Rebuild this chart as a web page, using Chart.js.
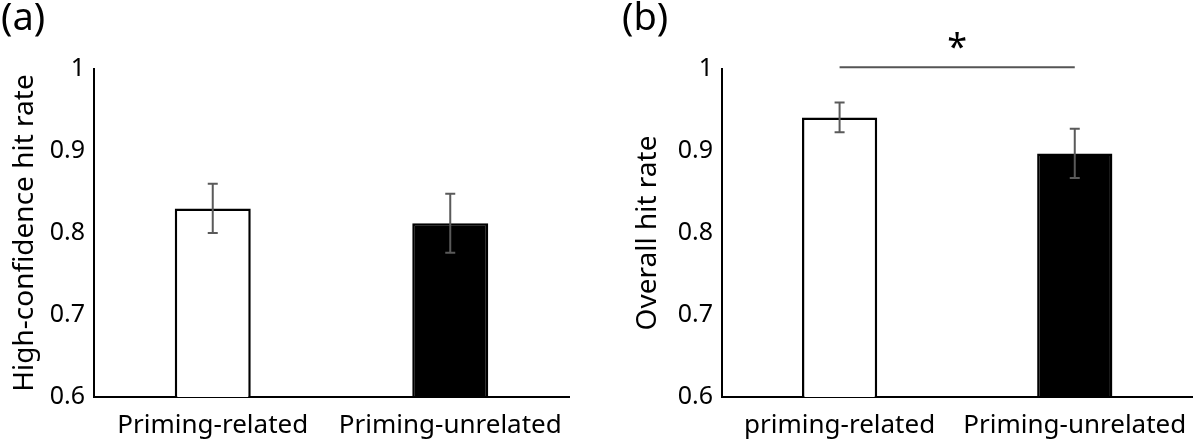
<!DOCTYPE html>
<html>
<head>
    <meta charset="utf-8"/>
    <title>Hit rates</title>
    <script src="https://cdn.jsdelivr.net/npm/chart.js@4/dist/chart.umd.min.js"></script>
    <style>
        body { margin: 0; background: #fff; }
        .wrap { position: relative; width: 1200px; height: 442px; }
        .wrap canvas { position: absolute; top: 0; }
        #chartA { left: 0; }
        #chartB { left: 600px; }
    </style>
</head>
<body>
    <div class="wrap">
        <canvas id="chartA" width="600" height="442"></canvas>
        <canvas id="chartB" width="600" height="442"></canvas>
    </div>
    <script>
        // data
        const categoriesA = ['Priming-related', 'Priming-unrelated'];
        const hitRateA = [0.83, 0.812];
        const errorA = [0.03, 0.036];

        const categoriesB = ['priming-related', 'Priming-unrelated'];
        const hitRateB = [0.941, 0.897];
        const errorB = [0.018, 0.03];

        const yMin = 0.6;
        const yMax = 1;
        const yStep = 0.1;
        const barColors = ['#ffffff', '#000000'];
        const sigLevelB = 1.002; // bracket just above the top of the axis

        const FONT = "'Noto Sans', sans-serif";

        // error bars, panel letter, significance line
        const extrasPlugin = {
            id: 'extras',
            afterDatasetsDraw(chart, args, opts) {
                const ctx = chart.ctx;
                const y = chart.scales.y;
                const meta = chart.getDatasetMeta(0);
                const values = chart.data.datasets[0].data;
                ctx.save();
                ctx.strokeStyle = '#5a5a5a';
                ctx.lineWidth = 2;
                opts.errors.forEach((e, i) => {
                    const x = meta.data[i].x;
                    const top = y.getPixelForValue(values[i] + e);
                    const bot = y.getPixelForValue(values[i] - e);
                    ctx.beginPath();
                    ctx.moveTo(x, top); ctx.lineTo(x, bot);
                    ctx.moveTo(x - 5, top); ctx.lineTo(x + 5, top);
                    ctx.moveTo(x - 5, bot); ctx.lineTo(x + 5, bot);
                    ctx.stroke();
                });
                ctx.restore();
            },
            afterDraw(chart, args, opts) {
                const ctx = chart.ctx;
                ctx.save();
                ctx.fillStyle = '#000';
                ctx.font = '38px ' + FONT;
                ctx.textAlign = 'left';
                ctx.textBaseline = 'alphabetic';
                ctx.fillText(opts.label, opts.labelX, 30);

                if (opts.sig) {
                    const meta = chart.getDatasetMeta(0);
                    const x0 = meta.data[0].x;
                    const x1 = meta.data[1].x;
                    const ys = chart.scales.y.getPixelForValue(opts.sig.level);
                    ctx.strokeStyle = '#555';
                    ctx.lineWidth = 2;
                    ctx.beginPath();
                    ctx.moveTo(x0, ys); ctx.lineTo(x1, ys);
                    ctx.stroke();
                    ctx.font = '36px ' + FONT;
                    ctx.textAlign = 'center';
                    ctx.fillText(opts.sig.text, (x0 + x1) / 2, ys - 8);
                }
                ctx.restore();
            }
        };

        function makeChart(id, cats, values, errors, yTitle, yWidth, titlePad, padRight, extras) {
            const ctx = document.getElementById(id).getContext('2d');
            return new Chart(ctx, {
                type: 'bar',
                data: {
                    labels: cats,
                    datasets: [{
                        data: values,
                        backgroundColor: barColors,
                        borderColor: '#000',
                        borderWidth: 2.5,
                        borderSkipped: 'bottom',
                        categoryPercentage: 1,
                        barPercentage: 0.32
                    }]
                },
                options: {
                    responsive: false,
                    animation: false,
                    events: [],
                    layout: { padding: { left: 0, right: padRight, top: 69, bottom: 0 } },
                    plugins: {
                        legend: { display: false },
                        tooltip: { enabled: false },
                        extras: Object.assign({ errors: errors }, extras)
                    },
                    scales: {
                        x: {
                            grid: { display: false, drawTicks: false },
                            border: { display: true, color: '#000', width: 2 },
                            ticks: { color: '#000', font: { family: FONT, size: 26 }, padding: 13, maxRotation: 0 },
                            afterFit(scale) { scale.height = 45; }
                        },
                        y: {
                            min: yMin,
                            max: yMax,
                            grid: { display: false, drawTicks: false },
                            border: { display: true, color: '#000', width: 2 },
                            ticks: {
                                stepSize: yStep,
                                color: '#000',
                                font: { family: FONT, size: 25 },
                                padding: 9,
                                callback: v => String(+v.toFixed(2))
                            },
                            title: {
                                display: true,
                                text: yTitle,
                                color: '#000',
                                font: { family: FONT, size: 28 },
                                padding: { top: titlePad, bottom: 0 }
                            },
                            afterFit(scale) { scale.width = yWidth; }
                        }
                    }
                },
                plugins: [extrasPlugin]
            });
        }

        makeChart('chartA', categoriesA, hitRateA, errorA, 'High-confidence hit rate', 94, 8, 31,
            { label: '(a)', labelX: 1 });
        makeChart('chartB', categoriesB, hitRateB, errorB, 'Overall hit rate', 122, 31, 3,
            { label: '(b)', labelX: 22, sig: { level: sigLevelB, text: '*' } });
    </script>
</body>
</html>
